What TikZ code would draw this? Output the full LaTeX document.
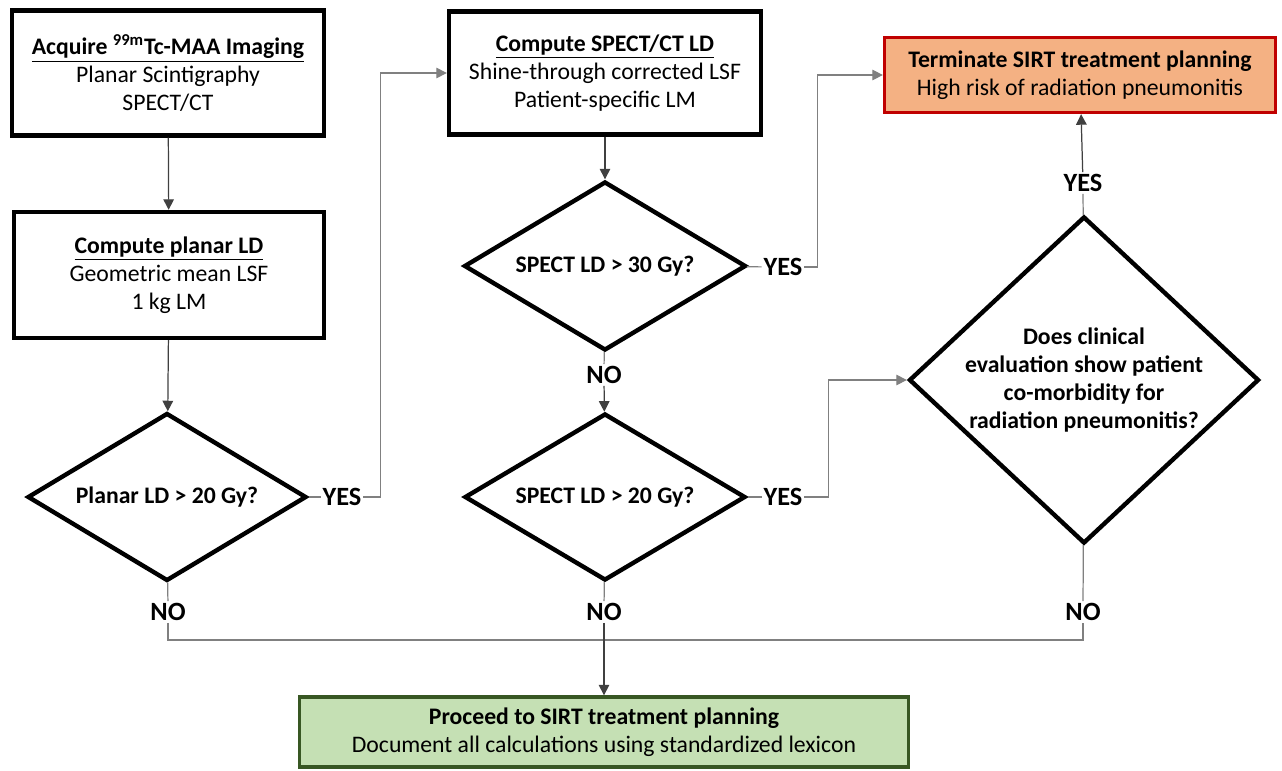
\documentclass[tikz,border=0pt]{standalone}
\usepackage{fontspec}
\setmainfont{Carlito}
\usetikzlibrary{shapes.geometric,arrows.meta}
\definecolor{stopfill}{HTML}{F4B183}
\definecolor{stopdraw}{HTML}{C00000}
\definecolor{gofill}{HTML}{C5E0B4}
\definecolor{godraw}{HTML}{385723}
\begin{document}
\begin{tikzpicture}[x=0.02cm,y=-0.02cm,
		every node/.style={font=\fontsize{13.5}{16}\selectfont},
		stepbox/.style={draw, rectangle, line width=2.5pt, align=center, inner sep=0pt},
		decision/.style={draw, diamond, aspect=1.65, line width=2.5pt, align=center, inner sep=0pt, font=\fontsize{13.5}{16}\selectfont\bfseries},
		answer/.style={inner sep=1pt, font=\fontsize{15}{16}\selectfont\bfseries},
		arr/.style={draw=black!75, line width=0.7pt, -{Triangle[length=6pt,width=6pt]}},
		link/.style={draw=black!50, line width=0.7pt}]
		\useasboundingbox (0,0) rectangle (1282,771);

		% Planar branch
		\node[stepbox, minimum width=6.25cm, minimum height=2.5cm] (Acquire) at (168,73)
			{{\bfseries\underline{Acquire \textsuperscript{99m}Tc-MAA Imaging}}\\Planar Scintigraphy\\SPECT/CT};
		\node[stepbox, minimum width=6.2cm, minimum height=2.52cm] (PlanarLD) at (169,275)
			{{\bfseries\underline{Compute planar LD}}\\Geometric mean LSF\\1 kg LM};
		\node[decision, minimum width=5.58cm, minimum height=3.36cm] (QPlanar) at (167,497) {Planar LD > 20 Gy?};
		\node[answer] (Yes1) at (342,497) {YES};
		\node[answer] (No1) at (168,612) {NO};
		\draw[arr] (Acquire) -- (PlanarLD);
		\draw[arr] (PlanarLD) -- (QPlanar);
		\draw[link] (QPlanar) -- (Yes1);
		\draw[link] (QPlanar) -- (No1);

		% SPECT/CT branch
		\node[stepbox, minimum width=6.24cm, minimum height=2.46cm] (SpectLD) at (605,73)
			{{\bfseries\underline{Compute SPECT/CT LD}}\\Shine-through corrected LSF\\Patient-specific LM};
		\node[decision, minimum width=5.64cm, minimum height=3.38cm] (QSpect30) at (605,266) {SPECT LD > 30 Gy?};
		\node[answer] (Yes2) at (783,267) {YES};
		\node[answer] (No2) at (604,375) {NO};
		\node[decision, minimum width=5.62cm, minimum height=3.34cm] (QSpect20) at (605,497) {SPECT LD > 20 Gy?};
		\node[answer] (Yes3) at (783,497) {YES};
		\node[answer] (No3) at (604,612) {NO};
		\draw[arr, draw=black!50] (Yes1.east) -- ++(17,0) |- (SpectLD);
		\draw[arr] (SpectLD) -- (QSpect30);
		\draw[link] (QSpect30) -- (Yes2);
		\draw[link] (QSpect30) -- (No2);
		\draw[arr] (No2) -- (QSpect20);
		\draw[link] (QSpect20) -- (Yes3);
		\draw[link] (QSpect20) -- (No3);

		% Clinical check and outcomes
		\node[stepbox, draw=stopdraw, fill=stopfill, line width=1.9pt, minimum width=7.82cm, minimum height=1.5cm] (Terminate) at (1080,75)
			{\textbf{Terminate SIRT treatment planning}\\High risk of radiation pneumonitis};
		\node[decision, aspect=1.07, minimum width=7.0cm, minimum height=6.5cm] (QClinic) at (1084,380)
			{Does clinical\\evaluation show patient\\co-morbidity for\\radiation pneumonitis?};
		\node[answer] (Yes4) at (1083,183) {YES};
		\node[answer] (No4) at (1083,612) {NO};
		\node[stepbox, draw=godraw, fill=gofill, line width=1.9pt, minimum width=12.18cm, minimum height=1.4cm] (Proceed) at (604,732)
			{\textbf{Proceed to SIRT treatment planning}\\Document all calculations using standardized lexicon};
		\coordinate (Merge) at (604,640);
		\draw[arr, draw=black!50] (Yes2.east) -- ++(13,0) |- (Terminate);
		\draw[arr, draw=black!50] (Yes3.east) -- ++(24,0) |- (QClinic);
		\draw[link] (QClinic) -- (Yes4);
		\draw[arr] (Yes4) -- (Terminate);
		\draw[link] (QClinic) -- (No4);
		\draw[link] (No1) |- (Merge) -| (No4);
		\draw[arr] (No3) -- (Proceed);

	\end{tikzpicture}
\end{document}
